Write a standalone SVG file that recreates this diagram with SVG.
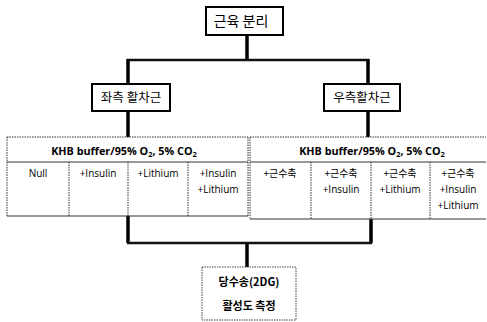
<svg xmlns="http://www.w3.org/2000/svg" width="487" height="322" viewBox="0 0 487 322">
<style>
.box{fill:#fff;stroke:#000;stroke-width:2}
.dbox{fill:#fff;stroke:#444;stroke-width:1;stroke-dasharray:1.5 1}
.ko{font-family:"Noto Sans CJK KR","Noto Sans",sans-serif;fill:#000}
.en{font-family:"Open Sans","Liberation Sans",sans-serif;fill:#000}
.hd{font-family:"Open Sans","Liberation Sans",sans-serif;font-weight:bold;font-size:10.8px;fill:#000}
.cell{font-size:10px}
.dot{stroke:#333;stroke-width:1;stroke-dasharray:1.5 1;fill:none}
.sol{stroke:#333;stroke-width:1;fill:none}
.thick{stroke:#000;stroke-width:3.5;fill:none}
.mid{stroke:#111;stroke-width:2.5;fill:none}
</style>
<g id="connectors">
<line class="thick" x1="247" y1="35" x2="247" y2="60"/>
<line class="mid" x1="127" y1="60" x2="369" y2="60"/>
<line class="thick" x1="128" y1="59" x2="128" y2="84"/>
<line class="thick" x1="368" y1="59" x2="368" y2="84"/>
<line class="thick" x1="128" y1="111" x2="128" y2="137"/>
<line class="thick" x1="368" y1="111" x2="368" y2="137"/>
<line class="thick" x1="128" y1="216" x2="128" y2="243"/>
<line class="thick" x1="371" y1="219" x2="371" y2="243"/>
<line class="mid" x1="127" y1="243" x2="372" y2="243"/>
<line class="thick" x1="247" y1="243" x2="247" y2="267"/>
</g>
<g id="node-top">
<rect class="box" x="206" y="7" width="77" height="28"/>
<text class="ko" x="241" y="26" font-size="14" text-anchor="middle">근육 분리</text>
</g>
<g id="node-left">
<rect class="box" x="92" y="84" width="78" height="27"/>
<text class="ko" x="131" y="102" font-size="12.5" text-anchor="middle">좌측 활차근</text>
</g>
<g id="node-right">
<rect class="box" x="324" y="84" width="76" height="27"/>
<text class="ko" x="362" y="102" font-size="12.5" text-anchor="middle">우측활차근</text>
</g>
<g id="table-left">
<rect x="7" y="137" width="241" height="79" fill="#fff"/>
<line class="dot" x1="7" y1="137" x2="248" y2="137"/>
<line class="sol" x1="7" y1="162" x2="248" y2="162"/>
<line class="sol" x1="7" y1="216" x2="248" y2="216"/>
<line class="dot" x1="7" y1="137" x2="7" y2="216"/>
<line class="dot" x1="248" y1="137" x2="248" y2="216"/>
<line class="dot" x1="69" y1="162" x2="69" y2="216"/>
<line class="dot" x1="128" y1="162" x2="128" y2="216"/>
<line class="dot" x1="188" y1="162" x2="188" y2="216"/>
<text class="hd" x="124" y="155" text-anchor="middle">KHB buffer/95% O<tspan font-size="7.5" dy="2">2</tspan><tspan dy="-2">, 5% CO</tspan><tspan font-size="7.5" dy="2">2</tspan></text>
<text class="en cell" x="38" y="177" text-anchor="middle">Null</text>
<text class="en cell" x="98" y="177" text-anchor="middle">+Insulin</text>
<text class="en cell" x="158" y="177" text-anchor="middle">+Lithium</text>
<text class="en cell" x="218" y="177" text-anchor="middle">+Insulin</text>
<text class="en cell" x="218" y="193" text-anchor="middle">+Lithium</text>
</g>
<g id="table-right">
<rect x="250" y="137" width="236" height="82" fill="#fff"/>
<line class="dot" x1="250" y1="137" x2="486" y2="137"/>
<line class="sol" x1="250" y1="162" x2="486" y2="162"/>
<line class="sol" x1="250" y1="219" x2="486" y2="219"/>
<line class="dot" x1="250" y1="137" x2="250" y2="219"/>
<line class="dot" x1="311" y1="162" x2="311" y2="219"/>
<line class="dot" x1="371" y1="162" x2="371" y2="219"/>
<line class="dot" x1="430" y1="162" x2="430" y2="219"/>
<text class="hd" x="372" y="155" text-anchor="middle">KHB buffer/95% O<tspan font-size="7.5" dy="2">2</tspan><tspan dy="-2">, 5% CO</tspan><tspan font-size="7.5" dy="2">2</tspan></text>
<text class="ko cell" x="280" y="177" text-anchor="middle">+근수축</text>
<text class="ko cell" x="341" y="177" text-anchor="middle">+근수축</text>
<text class="en cell" x="341" y="193" text-anchor="middle">+Insulin</text>
<text class="ko cell" x="400" y="177" text-anchor="middle">+근수축</text>
<text class="en cell" x="400" y="193" text-anchor="middle">+Lithium</text>
<text class="ko cell" x="458" y="177" text-anchor="middle">+근수축</text>
<text class="en cell" x="458" y="193" text-anchor="middle">+Insulin</text>
<text class="en cell" x="458" y="209" text-anchor="middle">+Lithium</text>
</g>
<g id="node-bottom">
<rect class="dbox" x="202" y="267" width="94" height="53"/>
<text class="ko" x="249" y="286" font-size="11" font-weight="bold" text-anchor="middle">당수송(2DG)</text>
<text class="ko" x="249" y="310" font-size="11" font-weight="bold" text-anchor="middle">활성도 측정</text>
</g>
</svg>
